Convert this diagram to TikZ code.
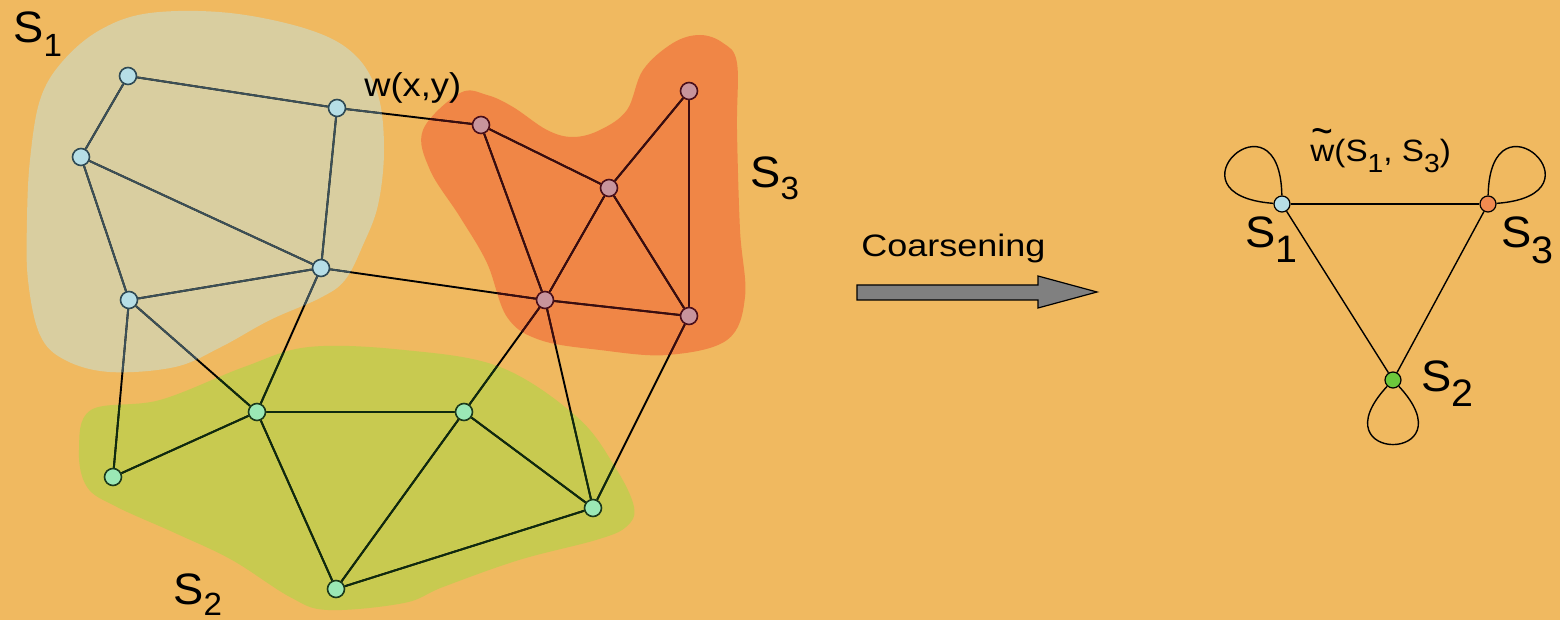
\documentclass[tikz,border=0pt]{standalone}
\usepackage{fontspec}
\setmainfont{Liberation Sans}
\usepackage{graphicx}
\pgfdeclarelayer{bg}
\pgfdeclarelayer{blobs}
\pgfdeclarelayer{edges}
\pgfsetlayers{bg,blobs,edges,main}
\definecolor{bgcol}{RGB}{240,185,96}
\definecolor{blobA}{RGB}{217,206,160}
\definecolor{blobB}{RGB}{200,202,80}
\definecolor{blobC}{RGB}{240,134,70}
\definecolor{edgeA}{RGB}{60,80,88}
\definecolor{edgeB}{RGB}{15,42,15}
\definecolor{edgeC}{RGB}{58,12,16}
\definecolor{nAfill}{RGB}{182,222,230}
\definecolor{nAline}{RGB}{47,74,85}
\definecolor{nBfill}{RGB}{155,232,181}
\definecolor{nBline}{RGB}{28,58,28}
\definecolor{nCfill}{RGB}{200,148,156}
\definecolor{nCline}{RGB}{74,15,26}
\definecolor{sCfill}{RGB}{240,138,80}
\definecolor{sBfill}{RGB}{108,200,60}
\definecolor{arrowgray}{RGB}{128,128,128}
\newcommand\sbx[3]{S\raisebox{-#1em}{\scalebox{#2}{#3}}}
\newcommand\wtilde{\makebox[0pt][l]{\hspace{0.04em}\raisebox{0.52em}{\scalebox{1.12}[1.4]{\char126}}}w}
\def\blobApath{plot[smooth cycle, tension=0.6] coordinates {(150,13) (230,13) (310,30) (355,55) (378,95) (384,150) (378,205) (363,245) (345,280) (320,298) (270,320) (221,347) (175,367) (110,372) (65,360) (40,335) (28,280) (27,220) (30,160) (40,100) (62,62) (100,30)}}
\def\blobBpath{plot[smooth cycle, tension=0.6] coordinates {(91,410) (160,400) (244,367) (309,347) (404,350) (500,367) (577,417) (615,467) (634,507) (626,527) (596,540) (519,560) (443,587) (404,603) (328,610) (290,597) (232,560) (175,533) (117,507) (87,487) (79,450)}}
\def\blobCpath{plot[smooth cycle, tension=0.6] coordinates {(460,93) (423,130) (430,170) (460,217) (487,263) (507,317) (540,340) (600,350) (667,355) (727,340) (745,297) (740,230) (737,130) (737,63) (723,43) (700,35) (673,43) (643,70) (627,110) (600,130) (573,137) (547,130) (513,107) (487,95)}}
\newcommand\graphedges{%
  \draw[edgeline] (a1)--(a2) (a1)--(a3) (a2)--(a4) (a3)--(a4) (a3)--(a5) (a4)--(a5)
    (a2)--(c1) (a4)--(c4) (a5)--(b1) (a5)--(b2) (a4)--(b2)
    (c1)--(c3) (c1)--(c4) (c2)--(c3) (c2)--(c5) (c3)--(c4) (c3)--(c5) (c4)--(c5)
    (c4)--(b3) (c4)--(b4) (c5)--(b4)
    (b1)--(b2) (b2)--(b3) (b2)--(b5) (b3)--(b5) (b3)--(b4) (b4)--(b5);}
\begin{document}
\begin{tikzpicture}[x=0.5pt,y=-0.5pt,
  nodeA/.style={circle, draw=nAline, fill=nAfill, line width=0.8pt, minimum size=8.5pt, inner sep=0pt},
  nodeB/.style={circle, draw=nBline, fill=nBfill, line width=0.8pt, minimum size=8.5pt, inner sep=0pt},
  nodeC/.style={circle, draw=nCline, fill=nCfill, line width=0.8pt, minimum size=8.5pt, inner sep=0pt},
  snode/.style={circle, draw=black, line width=0.6pt, minimum size=8pt, inner sep=0pt},
  edgeline/.style={line width=0.95pt},
  thin edge/.style={line width=0.7pt, draw=black},
  biglabel/.style={anchor=base west, inner sep=0pt, font=\fontsize{22}{25}\selectfont},
  rlabel/.style={anchor=base west, inner sep=0pt, font=\fontsize{22}{25}\selectfont},
]
\begin{pgfonlayer}{bg}
  \fill[bgcol] (0,0) rectangle (1560,620);
\end{pgfonlayer}
\useasboundingbox (0,0) rectangle (1560,620);
\begin{pgfonlayer}{blobs}
  \fill[blobA] \blobApath;
  \fill[blobB] \blobBpath;
  \fill[blobC] \blobCpath;
\end{pgfonlayer}
% nodes
\node[nodeA] (a1) at (128,76) {};
\node[nodeA] (a2) at (337,108) {};
\node[nodeA] (a3) at (81,157) {};
\node[nodeA] (a4) at (321,268) {};
\node[nodeA] (a5) at (129,300) {};
\node[nodeC] (c1) at (481,125) {};
\node[nodeC] (c2) at (689,91) {};
\node[nodeC] (c3) at (609,188) {};
\node[nodeC] (c4) at (545,300) {};
\node[nodeC] (c5) at (689,316) {};
\node[nodeB] (b1) at (113,477) {};
\node[nodeB] (b2) at (257,412) {};
\node[nodeB] (b3) at (464,412) {};
\node[nodeB] (b4) at (593,508) {};
\node[nodeB] (b5) at (336,589) {};
\begin{pgfonlayer}{edges}
  \begin{scope}[color=black]\graphedges\end{scope}
  \begin{scope}\clip \blobApath; \begin{scope}[color=edgeA]\graphedges\end{scope}\end{scope}
  \begin{scope}\clip \blobBpath; \begin{scope}[color=edgeB]\graphedges\end{scope}\end{scope}
  \begin{scope}\clip \blobCpath; \begin{scope}[color=edgeC]\graphedges\end{scope}\end{scope}
\end{pgfonlayer}
% labels left
\node[biglabel] (l1) at (13,43) {\scalebox{1.03}[1]{\sbx{0.3}{0.73}{1}}};
\node[biglabel] (l3) at (750,188) {\scalebox{1.03}[1]{\sbx{0.27}{0.73}{3}}};
\node[biglabel] (l2) at (173,604) {\scalebox{1.03}[1]{\sbx{0.27}{0.73}{2}}};
\node[anchor=base west, inner sep=0pt, font=\fontsize{16.5}{19}\selectfont] (wxy) at (364,97) {\scalebox{1.1}[1]{w(x,y)}};
% arrow
\node[anchor=base west, inner sep=0pt, font=\fontsize{15.5}{18}\selectfont] (coarse) at (861,257) {\scalebox{1.16}[1]{Coarsening}};
\draw[fill=arrowgray, draw=black, line width=0.6pt] (857,285) -- (1038,285) -- (1038,276) -- (1097,292) -- (1038,308) -- (1038,300) -- (857,300) -- cycle;
% right graph
\node[snode, fill=nAfill] (s1) at (1282,204) {};
\node[snode, fill=sCfill] (s3) at (1488,204) {};
\node[snode, fill=sBfill] (s2) at (1393,380) {};
\begin{pgfonlayer}{edges}
  \draw[thin edge] (s1) -- (s3);
  \draw[thin edge] (s1) -- (s2);
  \draw[thin edge] (s3) -- (s2);
  \draw[thin edge] (s1) .. controls (1280,85) and (1160,195) .. (s1);
  \draw[thin edge] (s3) .. controls (1490,85) and (1610,195) .. (s3);
  \draw[thin edge] (s2) .. controls (1315,464) and (1471,464) .. (s2);
\end{pgfonlayer}
\node[anchor=base west, inner sep=0pt, font=\fontsize{15.4}{18}\selectfont] (wt) at (1310,162) {\scalebox{1.08}[1]{\wtilde(\sbx{0.35}{0.85}{1}, \sbx{0.35}{0.85}{3})}};
\node[rlabel] (r1) at (1245,248) {\scalebox{1.03}[1]{\sbx{0.34}{0.87}{1}}};
\node[rlabel] (r3) at (1501,248) {\scalebox{1.03}[1]{\sbx{0.36}{0.87}{3}}};
\node[rlabel] (r2) at (1421,392) {\scalebox{1.03}[1]{\sbx{0.34}{0.87}{2}}};
\end{tikzpicture}
\end{document}
